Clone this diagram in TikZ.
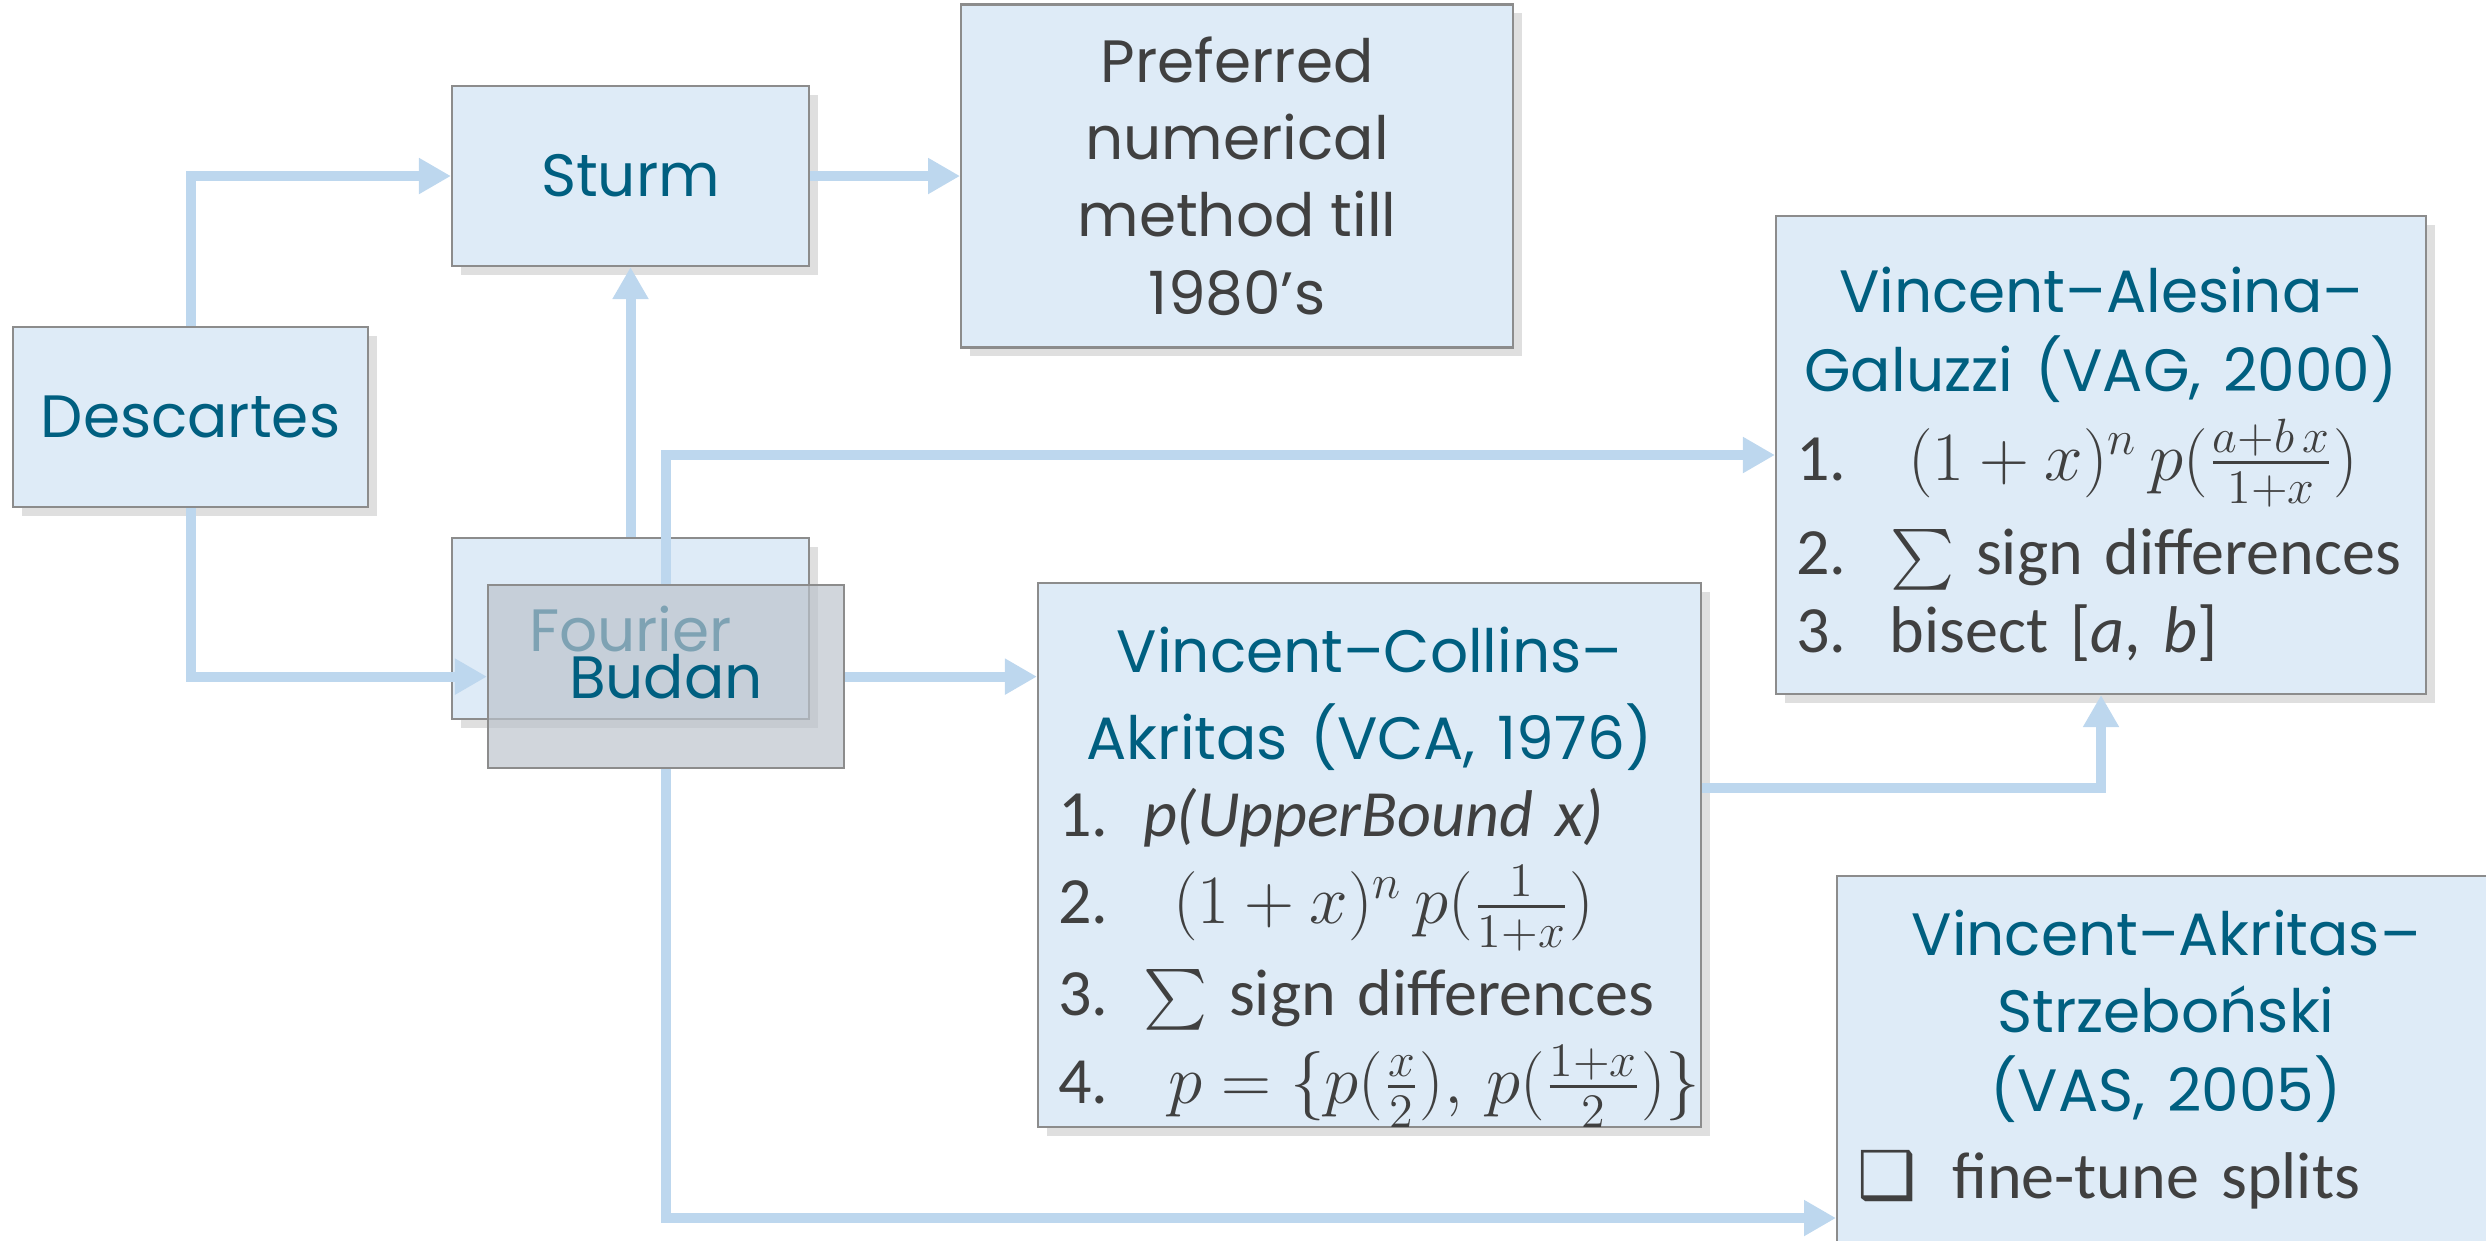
\documentclass[tikz,border=0pt]{standalone}
\usepackage{amsmath}
\usepackage{graphicx}
\usepackage[no-math]{fontspec}
\setmainfont{Carlito}
\newfontfamily\gothic{Poppins}
\newfontfamily\dingfont{DejaVu Sans}
\usepackage{xcolor}
\usepackage{tikz}
\usetikzlibrary{positioning,%
  arrows.meta,%
  calc,%
  shadows
}

\definecolor{boxfill}{HTML}{DEEBF7}
\definecolor{boxline}{HTML}{8C8C8C}
\definecolor{arrowblue}{HTML}{BDD7EE}
\definecolor{titleteal}{HTML}{005F80}
\definecolor{bodygray}{HTML}{404040}
\definecolor{budanfill}{HTML}{BBC3CC}

\newcommand{\titlesize}{\fontsize{17}{22}\selectfont}
\newcommand{\bodysize}{\fontsize{18.8}{22}\selectfont}
\newcommand{\ttl}[1]{\multicolumn{2}{@{}c@{}}{\gothic\titlesize\color{titleteal}#1}}
\newcommand{\mth}[1]{\smash{\scalebox{1.14}{$#1$}}}

\tikzset{
  algbox/.style={rectangle, draw=boxline, line width=0.6pt, fill=boxfill,
    drop shadow={opacity=0.25, shadow xshift=2.5pt, shadow yshift=-2.5pt}},
  namebox/.style={font=\gothic\titlesize, text=titleteal, align=center},
  listbox/.style={font=\bodysize, text=bodygray, align=left, inner xsep=0.2cm, inner ysep=0.1cm},
  flow/.style={draw=arrowblue, line width=0.1cm, line join=miter,
    -{Triangle[width=0.34cm,length=0.32cm]}}
}

\begin{document}
\begin{tikzpicture}
            % Rahmen
            \useasboundingbox (0,0) rectangle (24.86,-12.40);
            \clip (0,0) rectangle (24.86,-12.40);

            \node[algbox, namebox, minimum width=3.55cm, minimum height=1.80cm] (descartes) at (1.905,-4.17) {Descartes};
            \node[algbox, namebox, minimum width=3.57cm, minimum height=1.80cm] (sturm) at (6.305,-1.76) {Sturm};
            \node[algbox, namebox, text=bodygray, minimum width=5.52cm, minimum height=3.43cm, right=1.50cm of sturm] (preferred) {Preferred\\numerical\\method till\\1980’s};
            \node[algbox, namebox, minimum width=3.57cm, minimum height=1.81cm, below=2.70cm of sturm] (fourier) {Fourier};
            \node[namebox, draw=boxline, line width=0.6pt, fill=budanfill, fill opacity=0.68, text opacity=1,
                  minimum width=3.56cm, minimum height=1.83cm] (budan) at ($(fourier)+(0.355,-0.48)$) {Budan};

            \node[algbox, listbox, text width=6.23cm, minimum height=5.44cm] (vca) at (13.695,-8.55) {%
                \begin{tabular}{@{}p{0.85cm}@{}p{5.38cm}@{}}
                    \ttl{Vincent–Collins–}\\[2.3pt]
                    \ttl{Akritas (VCA, 1976)}\\
                    1. & \textit{p(UpperBound x)}\\[2.8pt]
                    2. & \mbox{\hspace{0.3cm}\mth{(1+x)^n\,p(\frac{1}{1+x})}}\\[4.1pt]
                    3. & $\sum$ sign differences\\[3.2pt]
                    4. & \mbox{\hspace{0.25cm}\mth{p=\{p(\frac{x}{2}),\, p(\frac{1+x}{2})\}}}\\[-10pt]
                \end{tabular}};
            \node[algbox, listbox, text width=6.10cm, minimum height=4.78cm] (vag) at (21.01,-4.55) {%
                \begin{tabular}{@{}p{0.94cm}@{}p{5.16cm}@{}}
                    \ttl{Vincent–Alesina–}\\
                    \ttl{Galuzzi (VAG, 2000)}\\[3.15pt]
                    1. & \mbox{\hspace{0.18cm}\mth{(1+x)^n\,p(\frac{a+b\,x}{1+x})}}\\[5pt]
                    2. & $\sum$ sign differences\\
                    3. & bisect [\textit{a}, \textit{b}]\\[-6.8pt]
                \end{tabular}};
            \node[algbox, listbox, text width=6.18cm, inner ysep=0.25cm, anchor=north west] (vas) at (18.36,-8.75) {%
                \begin{tabular}{@{}p{0.95cm}@{}p{5.23cm}@{}}
                    \ttl{Vincent–Akritas–}\\
                    \ttl{Strzeboński}\\
                    \ttl{(VAS, 2005)}\\[2.8pt]
                    {\dingfont ❑} & fine-tune splits
                \end{tabular}\par
                \vspace*{1.6cm}};

            % Pfeile
            \draw[flow] (descartes.north) |- (sturm.west);
            \draw[flow] (descartes.south) |- (budan.west);
            \path (sturm.east) edge[flow] (sturm.east -| preferred.west)
                  (fourier.north) edge[flow] (sturm.south)
                  (budan.east) edge[flow] (budan.east -| vca.west);
            \draw[flow] (budan.north) |- (vag.west);
            \draw[flow] ([yshift=0.67cm]vca.east) -| (vag.south);
            \draw[flow] (budan.south) |- ($(vas.north west)+(0,-3.43)$);
\end{tikzpicture}
\end{document}
